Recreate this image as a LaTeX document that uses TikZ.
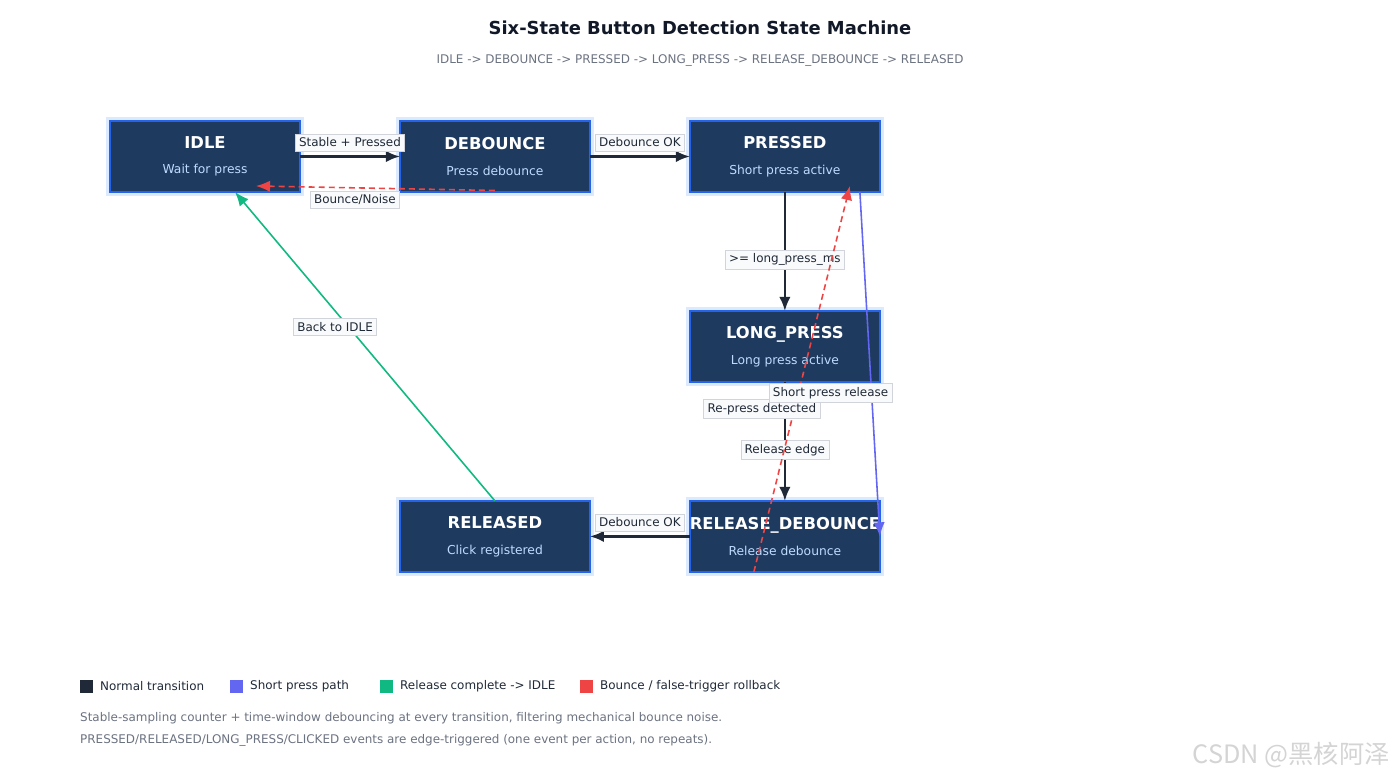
\documentclass[tikz,border=0pt]{standalone}
\usepackage{fontspec}
\setmainfont{DejaVu Sans}
\newfontfamily\cjkfont{Noto Sans CJK SC}
\usetikzlibrary{arrows.meta, calc, positioning}
\definecolor{stfill}{RGB}{30,58,95}
\definecolor{stborder}{RGB}{37,99,235}
\definecolor{stglow}{RGB}{219,234,254}
\definecolor{stsub}{RGB}{191,219,254}
\definecolor{edgedark}{RGB}{31,41,55}
\definecolor{shortblue}{RGB}{99,102,241}
\definecolor{backgreen}{RGB}{16,185,129}
\definecolor{bouncered}{RGB}{239,68,68}
\definecolor{lblfill}{RGB}{249,250,251}
\definecolor{lbldraw}{RGB}{209,213,219}
\definecolor{titleink}{RGB}{17,24,39}
\definecolor{noteink}{RGB}{107,114,128}
\newcommand{\stitle}[1]{\makebox[0pt][c]{\color{white}\bfseries\fontsize{9.3}{11}\selectfont #1}}

\begin{document}
\begin{tikzpicture}[
    x=0.02cm, y=-0.02cm,
    stbox/.style  = {rectangle, draw=stborder, fill=stfill, line width=1.1pt,
                     minimum width=3.8cm, minimum height=1.42cm, outer sep=0pt,
                     align=center, text=stsub, font=\fontsize{7}{14.6}\selectfont,
                     preaction={draw=stglow, line width=5pt}},
    arr/.style    = {-{Latex[length=8pt,width=6.5pt]}, line width=1.3pt, edgedark},
    shortarr/.style = {-{Latex[length=8pt,width=6.5pt]}, line width=0.9pt, shortblue},
    backarr/.style  = {-{Latex[length=8pt,width=6.5pt]}, line width=0.9pt, backgreen},
    bounce/.style   = {-{Latex[length=8pt,width=6.5pt]}, line width=0.9pt, bouncered,
                       dash pattern=on 3.4pt off 2.3pt},
    lbl/.style    = {solid, fill=lblfill, draw=lbldraw, line width=0.4pt, inner sep=2.2pt,
                     text=edgedark, font=\fontsize{6.8}{8}\selectfont},
    key/.style    = {rectangle, minimum size=7.4pt, inner sep=0pt},
    keytext/.style = {anchor=west, text=edgedark, font=\fontsize{6.8}{8}\selectfont},
    note/.style   = {anchor=west, text=noteink, font=\fontsize{6.8}{8}\selectfont},
]
\useasboundingbox (0,0) rectangle (1400,780);

% ---- title ------------------------------------------------------------------
\node[font=\bfseries\fontsize{10.2}{12}\selectfont, text=titleink] (title) at (700,28)
     {Six-State Button Detection State Machine};
\node[font=\fontsize{6.8}{8}\selectfont, text=noteink] (subtitle) at (700,60)
     {IDLE -> DEBOUNCE -> PRESSED -> LONG\_PRESS -> RELEASE\_DEBOUNCE -> RELEASED};

% ---- states -----------------------------------------------------------------
\node[stbox] (idle) at (205,156.5) {\stitle{IDLE}\\Wait for press};
\node[stbox, right=2cm of idle] (debounce) {\stitle{DEBOUNCE}\\Press debounce};
\node[stbox, right=2cm of debounce] (pressed) {\stitle{PRESSED}\\Short press active};
\node[stbox, below=2.38cm of pressed] (longpress) {\stitle{LONG\_PRESS}\\Long press active};
\node[stbox, below=2.38cm of longpress] (reldeb) {\stitle{RELEASE\_DEBOUNCE}\\Release debounce};
\node[stbox, left=2cm of reldeb] (released) {\stitle{RELEASED}\\Click registered};

% ---- transitions ------------------------------------------------------------
\draw[arr] (idle) -- node[lbl, yshift=0.28cm] (l-stable) {Stable + Pressed} (debounce);
\draw[arr] (debounce) -- node[lbl, yshift=0.28cm] (l-dbok) {Debounce OK} (pressed);
\draw[arr] (pressed) -- node[lbl, pos=0.57] (l-long) {>= long\_press\_ms} (longpress);
\draw[arr] (longpress) -- node[lbl, pos=0.57] (l-reledge) {Release edge} (reldeb);
\draw[arr] (reldeb) -- node[lbl, yshift=0.28cm] (l-reldbok) {Debounce OK} (released);

\draw[backarr] (released.north) -- node[lbl, pos=0.563, xshift=-0.27cm] (l-back) {Back to IDLE}
      ($(idle.south)+(30,0)$);
\draw[bounce] ($(debounce.south)+(0,-1.5)$) -- node[lbl, pos=0.586, yshift=-0.24cm] (l-noise) {Bounce/Noise}
      ($(idle.south)+(51,-6)$);
\draw[bounce] ($(reldeb.south)+(-31,0)$) -- node[lbl, pos=0.422, xshift=-0.65cm] (l-repress) {Re-press detected}
      ($(pressed.south)+(65,-6)$);
\draw[shortarr] ($(pressed.south)+(75,0)$) -- node[lbl, pos=0.584, xshift=-0.82cm] (l-short) {Short press release}
      (reldeb.east);

% ---- legend -----------------------------------------------------------------
\node[key, fill=edgedark] (k-normal) at (86.5,686) {};
\node[keytext] (t-normal) at (94,686) {Normal transition};
\node[key, fill=shortblue] (k-short) at (236.5,686) {};
\node[keytext] (t-short) at (244,686) {Short press path};
\node[key, fill=backgreen] (k-back) at (386.5,686) {};
\node[keytext] (t-back) at (394,686) {Release complete -> IDLE};
\node[key, fill=bouncered] (k-bounce) at (586.5,686) {};
\node[keytext] (t-bounce) at (594,686) {Bounce / false-trigger rollback};

\node[note] (n-1) at (74,718) {Stable-sampling counter + time-window debouncing at every transition, filtering mechanical bounce noise.};
\node[note] (n-2) at (74,740) {PRESSED/RELEASED/LONG\_PRESS/CLICKED events are edge-triggered (one event per action, no repeats).};

\node[font=\cjkfont\fontsize{14.4}{17}\selectfont, text=black!17, anchor=east] (mark) at (1396,755) {CSDN @黑核阿泽};
\end{tikzpicture}
\end{document}
